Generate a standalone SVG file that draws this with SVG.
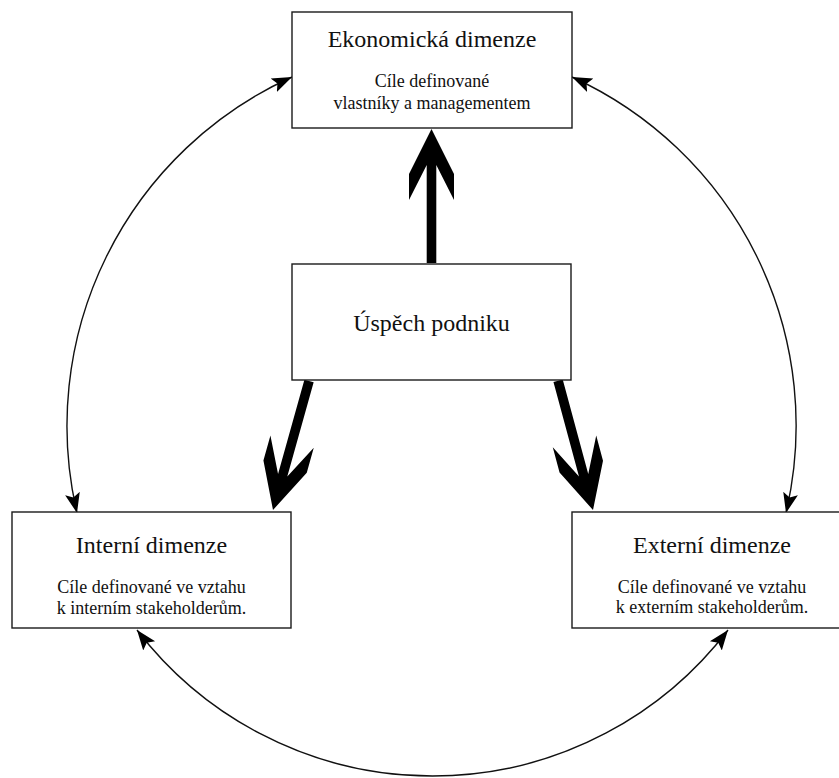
<svg xmlns="http://www.w3.org/2000/svg" width="839" height="778" viewBox="0 0 839 778">
<style>
.box{fill:#fff;stroke:#1a1a1a;stroke-width:1.4}
text{font-family:'Liberation Serif','Times New Roman',Tinos,'DejaVu Serif',serif;fill:#111;text-anchor:middle}
.h{font-size:24px}
.s{font-size:18px}
.arc{fill:none;stroke:#111;stroke-width:1.4}
.big{fill:#000}
</style>
<defs>
<marker id="ah" markerUnits="userSpaceOnUse" markerWidth="22" markerHeight="18" refX="20" refY="9" orient="auto-start-reverse">
<path d="M0,1.5 L20,9 L0,16.5 L4,9 z" fill="#000"/>
</marker>
<path id="bigArrow" d="M0,0 L-22.5,45 L-22.5,71 L-4.8,36 L-4.8,134 L4.8,134 L4.8,36 L22.5,71 L22.5,45 z"/>
</defs>
<g id="connectors">
<path class="arc" d="M 292 77 A 383 383 0 0 0 77 513" marker-start="url(#ah)" marker-end="url(#ah)"/>
<path class="arc" d="M 572 77 A 383 383 0 0 1 786 513" marker-start="url(#ah)" marker-end="url(#ah)"/>
<path class="arc" d="M 137 630 A 372 372 0 0 0 728 630" marker-start="url(#ah)" marker-end="url(#ah)"/>
<use href="#bigArrow" class="big" transform="translate(431.5,129)"/>
<use href="#bigArrow" class="big" transform="translate(273,510) rotate(195.6)"/>
<use href="#bigArrow" class="big" transform="translate(593,510) rotate(164.9)"/>
</g>
<g id="ekonomicka" font-family="Liberation Serif, serif">
<rect class="box" x="292" y="12" width="280" height="116"/>
<text class="h" x="432" y="47">Ekonomická dimenze</text>
<text class="s" x="432" y="87">Cíle definované</text>
<text class="s" x="432" y="109">vlastníky a managementem</text>
</g>
<g id="uspech">
<rect class="box" x="292" y="264" width="279" height="116"/>
<text class="h" x="431.5" y="331">Úspěch podniku</text>
</g>
<g id="interni">
<rect class="box" x="12" y="512" width="279" height="116"/>
<text class="h" x="151.5" y="553">Interní dimenze</text>
<text class="s" x="151.5" y="593">Cíle definované ve vztahu</text>
<text class="s" x="151.5" y="614">k interním stakeholderům.</text>
</g>
<g id="externi">
<rect class="box" x="572" y="512" width="280" height="116"/>
<text class="h" x="712" y="553">Externí dimenze</text>
<text class="s" x="712" y="593">Cíle definované ve vztahu</text>
<text class="s" x="712" y="613">k externím stakeholderům.</text>
</g>
</svg>
